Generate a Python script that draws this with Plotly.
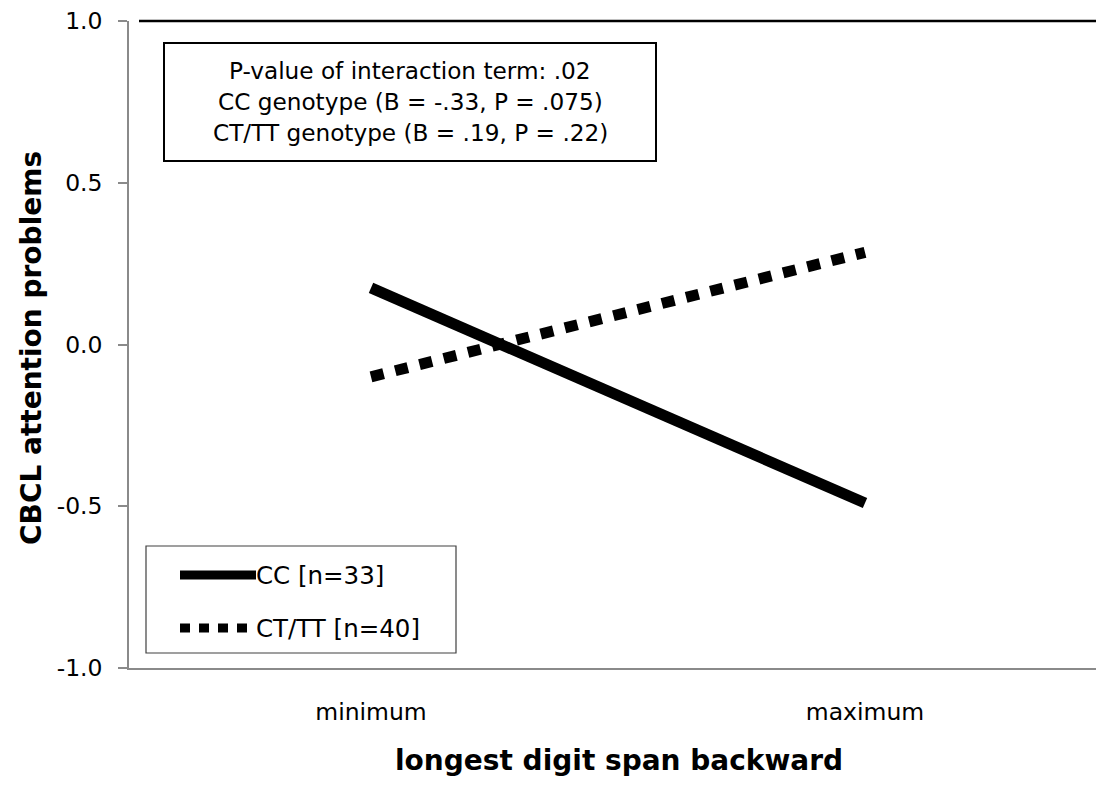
import plotly.graph_objects as go

# ---- data ----
categories = ["minimum", "maximum"]
cat_pos = [0, 1]
series_names = ["CC [n=33]", "CT/TT [n=40]"]
cc_values = [0.175, -0.49]
cttt_values = [-0.10, 0.285]
y_tickvals = [-1.0, -0.5, 0.0, 0.5, 1.0]
y_ticktext = ["-1.0", "-0.5", "0.0", "0.5", "1.0"]
info_lines = [
    "P-value of interaction term: .02",
    "CC genotype (B = -.33, P = .075)",
    "CT/TT genotype (B = .19, P = .22)",
]
x_title = "longest digit span backward"
y_title = "CBCL attention problems"

FONT = "DejaVu Sans"
OFF = 8  # page offset of the figure inside the browser window
W, H = 1104, 772
ML, MR, MT, MB = 121, 0, 13, 112
PW, PH = W - ML - MR, H - MT - MB
# x data range chosen so that category centres sit at screen x 371 and 865
XPX_PER_UNIT = 494.0
X0 = -(371 - (ML + OFF)) / XPX_PER_UNIT
X1 = X0 + PW / XPX_PER_UNIT


def px(xs):
    """screen x -> paper x"""
    return (xs - OFF - ML) / PW


def py(ys):
    """screen y -> paper y"""
    return 1 - (ys - OFF - MT) / PH


fig = go.Figure()
fig.add_trace(go.Scatter(
    x=cat_pos, y=cc_values, mode="lines", name=series_names[0],
    line=dict(color="black", width=11), showlegend=False))
fig.add_trace(go.Scatter(
    x=cat_pos, y=cttt_values, mode="lines", name=series_names[1],
    line=dict(color="black", width=11, dash="13px,12px"), showlegend=False))

shapes = []
# top border line
shapes.append(dict(type="line", xref="paper", yref="paper",
                   x0=px(139), x1=1.0, y0=1.0, y1=1.0,
                   line=dict(color="black", width=2.5)))
# info box
shapes.append(dict(type="rect", xref="paper", yref="paper",
                   x0=px(164), x1=px(656), y0=py(43), y1=py(161),
                   line=dict(color="black", width=2), fillcolor="white"))
# legend box
shapes.append(dict(type="rect", xref="paper", yref="paper",
                   x0=px(146), x1=px(456), y0=py(546), y1=py(653),
                   line=dict(color="#404040", width=1.2), fillcolor="white"))
# legend samples
shapes.append(dict(type="line", xref="paper", yref="paper",
                   x0=px(180), x1=px(256), y0=py(575), y1=py(575),
                   line=dict(color="black", width=9)))
shapes.append(dict(type="line", xref="paper", yref="paper",
                   x0=px(180), x1=px(256), y0=py(628), y1=py(628),
                   line=dict(color="black", width=9, dash="10px,9px")))

annotations = []
for line, yy in zip(info_lines, [70, 101, 132]):
    annotations.append(dict(
        xref="paper", yref="paper", x=px(410), y=py(yy),
        text=line, showarrow=False, align="center",
        xanchor="center", yanchor="middle",
        font=dict(family=FONT, size=23.2, color="black")))
for name, yy in zip(series_names, [575, 628]):
    annotations.append(dict(
        xref="paper", yref="paper", x=px(254), y=py(yy), text=name,
        showarrow=False, xanchor="left", yanchor="middle",
        font=dict(family=FONT, size=24.5, color="black")))
# axis titles
annotations.append(dict(
    xref="paper", yref="paper", x=px(619), y=py(760), text=x_title,
    showarrow=False, xanchor="center", yanchor="middle",
    font=dict(family=FONT, size=28, color="black", weight="bold")))
annotations.append(dict(
    xref="paper", yref="paper", x=px(31), y=py(348), text=y_title,
    showarrow=False, xanchor="center", yanchor="middle", textangle=-90,
    font=dict(family=FONT, size=28, color="black", weight="bold")))

fig.update_layout(
    width=W, height=H,
    margin=dict(l=ML, r=MR, t=MT, b=MB, pad=0),
    paper_bgcolor="white", plot_bgcolor="white",
    font=dict(family=FONT, size=23.5, color="black"),
    shapes=shapes, annotations=annotations,
    xaxis=dict(
        range=[X0, X1], tickvals=cat_pos, ticktext=categories,
        showgrid=False, zeroline=False, showline=True,
        linecolor="#8a8a8a", linewidth=1.5, ticks="",
        ticklabelstandoff=22, ticklabeloverflow="allow",
        tickfont=dict(family=FONT, size=23.5, color="black"),
    ),
    yaxis=dict(
        range=[-1.0, 1.0], tickvals=y_tickvals, ticktext=y_ticktext,
        showgrid=False, zeroline=False, showline=True,
        linecolor="#8a8a8a", linewidth=1.5, ticks="outside", ticklen=9,
        tickcolor="#8a8a8a", tickwidth=1.5,
        ticklabelstandoff=11, ticklabeloverflow="allow",
        tickfont=dict(family=FONT, size=23.5, color="black"),
    ),
)

fig.write_html("out.html")
